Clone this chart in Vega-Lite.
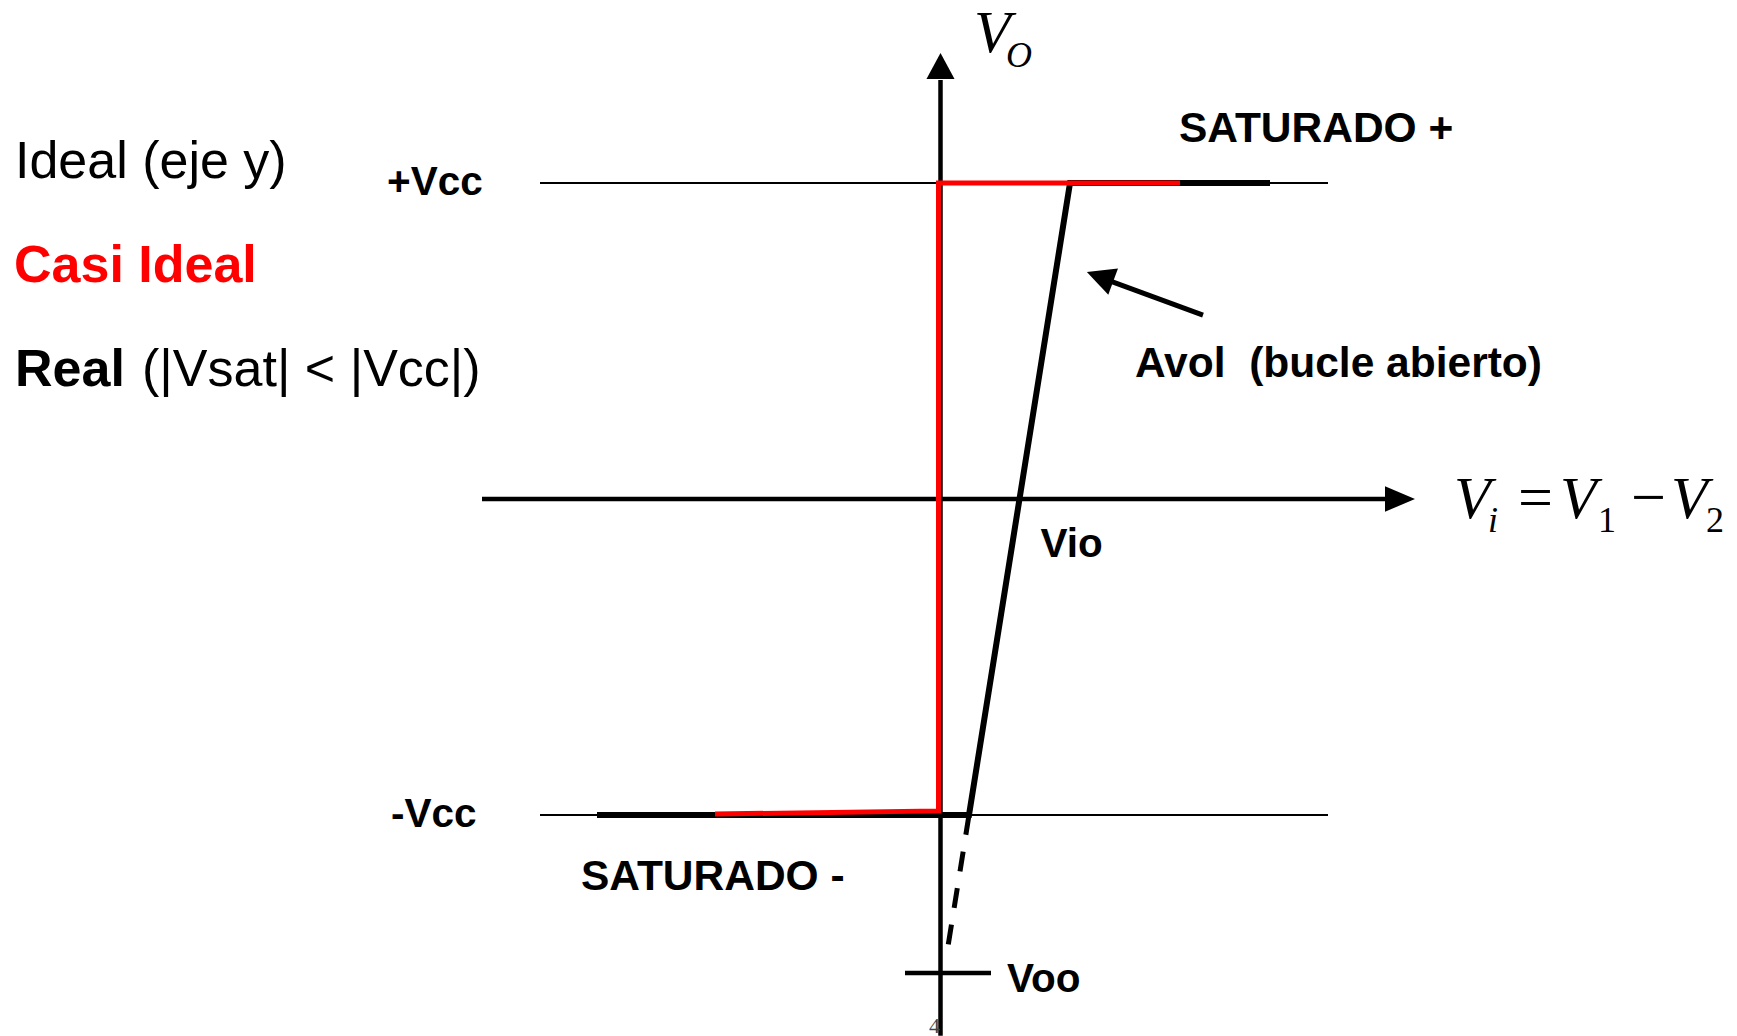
{
  "$schema": "https://vega.github.io/schema/vega-lite/v6.json",
  "width": 1737,
  "height": 1036,
  "autosize": {"type": "none"},
  "padding": 0,
  "background": "white",
  "config": {"view": {"stroke": null}},
  "datasets": {
    "thin": [
      {"seg": "pos", "ord": 0, "x": -4.005, "y": 10},
      {"seg": "pos", "ord": 1, "x": 3.875, "y": 10},
      {"seg": "neg", "ord": 0, "x": -4.005, "y": -10},
      {"seg": "neg", "ord": 1, "x": 3.875, "y": -10}
    ],
    "axes": [
      {"seg": "vi", "ord": 0, "x": -4.585, "y": 0},
      {"seg": "vi", "ord": 1, "x": 4.5, "y": 0},
      {"seg": "vo", "ord": 0, "x": 0, "y": 13.26},
      {"seg": "vo", "ord": 1, "x": 0, "y": -16.99},
      {"seg": "voo", "ord": 0, "x": -0.355, "y": -15.0},
      {"seg": "voo", "ord": 1, "x": 0.505, "y": -15.0}
    ],
    "real": [
      {"seg": "real", "ord": 0, "x": -3.435, "y": -10},
      {"seg": "real", "ord": 1, "x": 0.285, "y": -10},
      {"seg": "real", "ord": 2, "x": 1.295, "y": 10},
      {"seg": "real", "ord": 3, "x": 3.295, "y": 10}
    ],
    "dashed": [
      {"seg": "ext", "ord": 0, "x": 0.285, "y": -10},
      {"seg": "ext", "ord": 1, "x": 0.055, "y": -14.55}
    ],
    "casi": [
      {"seg": "casi", "ord": 0, "x": -2.255, "y": -9.97},
      {"seg": "casi", "ord": 1, "x": -0.02, "y": -9.87},
      {"seg": "casi", "ord": 2, "x": -0.02, "y": 10},
      {"seg": "casi", "ord": 3, "x": 2.395, "y": 10}
    ],
    "avolShaft": [
      {"seg": "avol", "ord": 0, "x": 2.625, "y": 5.82},
      {"seg": "avol", "ord": 1, "x": 1.645, "y": 6.96}
    ],
    "arrowUp": [{"x": 0, "y": 13.70}],
    "arrowRight": [{"x": 4.595, "y": 0}],
    "arrowAvol": [{"x": 1.595, "y": 7.03}],
    "legendNormal": [
      {"label": "Ideal (eje y)", "x": -9.255, "y": 10.16},
      {"label": "(|Vsat| < |Vcc|)", "x": -7.985, "y": 3.58}
    ],
    "legendRed": [{"label": "Casi Ideal", "x": -9.265, "y": 6.87}],
    "legendBold": [{"label": "Real", "x": -9.255, "y": 3.58}],
    "labelsSmall": [
      {"label": "+Vcc", "x": -5.535, "y": 9.62},
      {"label": "-Vcc", "x": -5.495, "y": -10.38},
      {"label": "Vio", "x": 1.0, "y": -1.84},
      {"label": "Voo", "x": 0.665, "y": -15.60}
    ],
    "labelsLarge": [
      {"label": "SATURADO +", "x": 2.385, "y": 11.30},
      {"label": "Avol\u00a0 (bucle abierto)", "x": 1.945, "y": 3.86},
      {"label": "SATURADO -", "x": -3.595, "y": -12.37}
    ],
    "mathBigItalic": [
      {"label": "V", "x": 0.335, "y": 14.15},
      {"label": "V", "x": 5.135, "y": -0.60},
      {"label": "V", "x": 6.195, "y": -0.60},
      {"label": "V", "x": 7.305, "y": -0.60}
    ],
    "mathSmallItalic": [
      {"label": "O", "x": 0.655, "y": 13.67},
      {"label": "i", "x": 5.475, "y": -1.04}
    ],
    "mathBigUpright": [
      {"label": "=", "x": 5.775, "y": -0.60},
      {"label": "\u2212", "x": 6.905, "y": -0.60}
    ],
    "mathSmallUpright": [
      {"label": "1", "x": 6.575, "y": -1.04},
      {"label": "2", "x": 7.655, "y": -1.04}
    ],
    "page": [{"label": "4", "x": -0.115, "y": -16.90}]
  },
  "encoding": {
    "x": {"field": "x", "type": "quantitative", "scale": {"domain": [-9.405, 7.965], "nice": false, "zero": false}, "axis": null},
    "y": {"field": "y", "type": "quantitative", "scale": {"domain": [-16.994, 15.791], "nice": false, "zero": false}, "axis": null}
  },
  "layer": [
    {
      "data": {"name": "thin"},
      "mark": {"type": "line", "color": "black", "strokeWidth": 2, "strokeCap": "butt"},
      "encoding": {"detail": {"field": "seg"}, "order": {"field": "ord"}}
    },
    {
      "data": {"name": "axes"},
      "mark": {"type": "line", "color": "black", "strokeWidth": 4.5, "strokeCap": "butt"},
      "encoding": {"detail": {"field": "seg"}, "order": {"field": "ord"}}
    },
    {
      "data": {"name": "real"},
      "mark": {"type": "line", "color": "black", "strokeWidth": 6, "strokeCap": "butt", "strokeJoin": "miter"},
      "encoding": {"detail": {"field": "seg"}, "order": {"field": "ord"}}
    },
    {
      "data": {"name": "dashed"},
      "mark": {"type": "line", "color": "black", "strokeWidth": 5, "strokeCap": "butt", "strokeDash": [20, 17]},
      "encoding": {"detail": {"field": "seg"}, "order": {"field": "ord"}}
    },
    {
      "data": {"name": "casi"},
      "mark": {"type": "line", "color": "#ff0000", "strokeWidth": 5, "strokeCap": "butt", "strokeJoin": "miter"},
      "encoding": {"detail": {"field": "seg"}, "order": {"field": "ord"}}
    },
    {
      "data": {"name": "avolShaft"},
      "mark": {"type": "line", "color": "black", "strokeWidth": 5, "strokeCap": "butt"},
      "encoding": {"detail": {"field": "seg"}, "order": {"field": "ord"}}
    },
    {
      "data": {"name": "arrowUp"},
      "mark": {"type": "point", "filled": true, "color": "black", "opacity": 1, "strokeWidth": 0, "shape": "M0,-1L1.08,1L-1.08,1Z", "size": 676}
    },
    {
      "data": {"name": "arrowRight"},
      "mark": {"type": "point", "filled": true, "color": "black", "opacity": 1, "strokeWidth": 0, "shape": "M1,0L-1,-0.85L-1,0.85Z", "size": 900}
    },
    {
      "data": {"name": "arrowAvol"},
      "mark": {"type": "point", "filled": true, "color": "black", "opacity": 1, "strokeWidth": 0, "shape": "M1,0L-1,-1L-1,1Z", "size": 784, "angle": 200.3}
    },
    {
      "data": {"name": "legendNormal"},
      "mark": {"type": "text", "align": "left", "baseline": "alphabetic", "font": "Liberation Sans", "fontSize": 52, "color": "black"},
      "encoding": {"text": {"field": "label"}}
    },
    {
      "data": {"name": "legendRed"},
      "mark": {"type": "text", "align": "left", "baseline": "alphabetic", "font": "Liberation Sans", "fontWeight": "bold", "fontSize": 52, "color": "#ff0000"},
      "encoding": {"text": {"field": "label"}}
    },
    {
      "data": {"name": "legendBold"},
      "mark": {"type": "text", "align": "left", "baseline": "alphabetic", "font": "Liberation Sans", "fontWeight": "bold", "fontSize": 52, "color": "black"},
      "encoding": {"text": {"field": "label"}}
    },
    {
      "data": {"name": "labelsSmall"},
      "mark": {"type": "text", "align": "left", "baseline": "alphabetic", "font": "Liberation Sans", "fontWeight": "bold", "fontSize": 40.5, "color": "black"},
      "encoding": {"text": {"field": "label"}}
    },
    {
      "data": {"name": "labelsLarge"},
      "mark": {"type": "text", "align": "left", "baseline": "alphabetic", "font": "Liberation Sans", "fontWeight": "bold", "fontSize": 42.5, "color": "black"},
      "encoding": {"text": {"field": "label"}}
    },
    {
      "data": {"name": "mathBigItalic"},
      "mark": {"type": "text", "align": "left", "baseline": "alphabetic", "font": "Liberation Serif", "fontStyle": "italic", "fontSize": 60, "color": "black"},
      "encoding": {"text": {"field": "label"}}
    },
    {
      "data": {"name": "mathSmallItalic"},
      "mark": {"type": "text", "align": "left", "baseline": "alphabetic", "font": "Liberation Serif", "fontStyle": "italic", "fontSize": 36, "color": "black"},
      "encoding": {"text": {"field": "label"}}
    },
    {
      "data": {"name": "mathBigUpright"},
      "mark": {"type": "text", "align": "left", "baseline": "alphabetic", "font": "Liberation Serif", "fontSize": 62, "color": "black"},
      "encoding": {"text": {"field": "label"}}
    },
    {
      "data": {"name": "mathSmallUpright"},
      "mark": {"type": "text", "align": "left", "baseline": "alphabetic", "font": "Liberation Serif", "fontSize": 36, "color": "black"},
      "encoding": {"text": {"field": "label"}}
    },
    {
      "data": {"name": "page"},
      "mark": {"type": "text", "align": "left", "baseline": "alphabetic", "font": "Liberation Serif", "fontSize": 22, "color": "#444444"},
      "encoding": {"text": {"field": "label"}}
    }
  ]
}
